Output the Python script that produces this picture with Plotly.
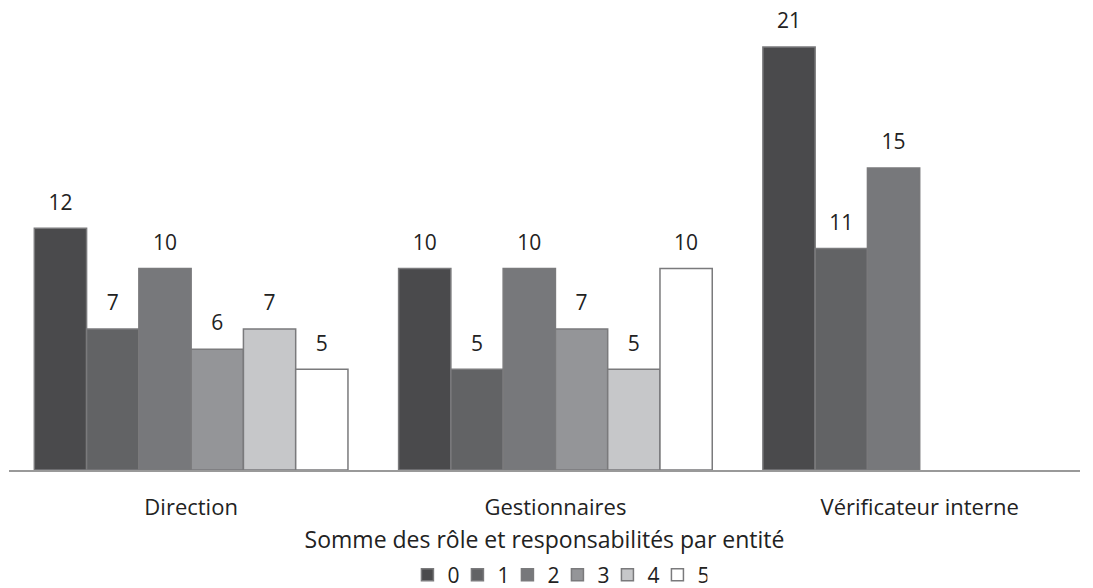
import plotly.graph_objects as go

categories = ["Direction", "Gestionnaires", "Vérificateur interne"]
series_names = ["0", "1", "2", "3", "4", "5"]
values_0 = [12, 10, 21]
values_1 = [7, 5, 11]
values_2 = [10, 10, 15]
values_3 = [6, 7, None]
values_4 = [7, 5, None]
values_5 = [5, 10, None]

all_values = [values_0, values_1, values_2, values_3, values_4, values_5]
colors = ["#4a4a4c", "#626365", "#77787b", "#949598", "#c6c7c9", "#ffffff"]

fig = go.Figure()
for name, vals, col in zip(series_names, all_values, colors):
    fig.add_trace(go.Bar(
        x=categories,
        y=vals,
        name=name,
        marker=dict(color=col, line=dict(color="#7a7a7c", width=1.5)),
        hoverinfo="y",
    ))

# value labels: invisible grouped markers so the text sits a bit above each bar
for name, vals in zip(series_names, all_values):
    fig.add_trace(go.Scatter(
        x=categories,
        y=vals,
        mode="markers+text",
        text=[str(v) if v is not None else "" for v in vals],
        textposition="top center",
        textfont=dict(size=21, color="#222222"),
        marker=dict(size=20, color="rgba(0,0,0,0)"),
        showlegend=False,
        hoverinfo="skip",
        cliponaxis=False,
    ))

fig.update_layout(
    width=1093,
    height=588,
    barmode="group",
    bargap=0.139,
    bargroupgap=0,
    scattermode="group",
    scattergap=0.139,
    plot_bgcolor="white",
    paper_bgcolor="white",
    font=dict(family="Open Sans", size=21, color="#222222"),
    margin=dict(l=9, r=13, t=10, b=118, autoexpand=False),
    showlegend=True,
    legend=dict(
        orientation="h",
        x=0.51, xanchor="center", xref="container",
        y=0.022, yanchor="middle", yref="container",
        font=dict(size=21),
        itemwidth=30,
        entrywidth=5,
        traceorder="normal",
    ),
    xaxis=dict(
        range=[-0.5, 2.44],
        showline=True,
        linecolor="#999999",
        linewidth=1.5,
        ticks="",
        tickfont=dict(size=22),
        ticklabelstandoff=17,
        title=dict(text="Somme des rôle et responsabilités par entité", standoff=13,
                   font=dict(size=23)),
    ),
    yaxis=dict(
        range=[0, 22.84],
        showgrid=False,
        showticklabels=False,
        zeroline=False,
    ),
)

fig.write_html("out.html", config={"displayModeBar": False},
               post_script="document.body.style.margin='0';")
